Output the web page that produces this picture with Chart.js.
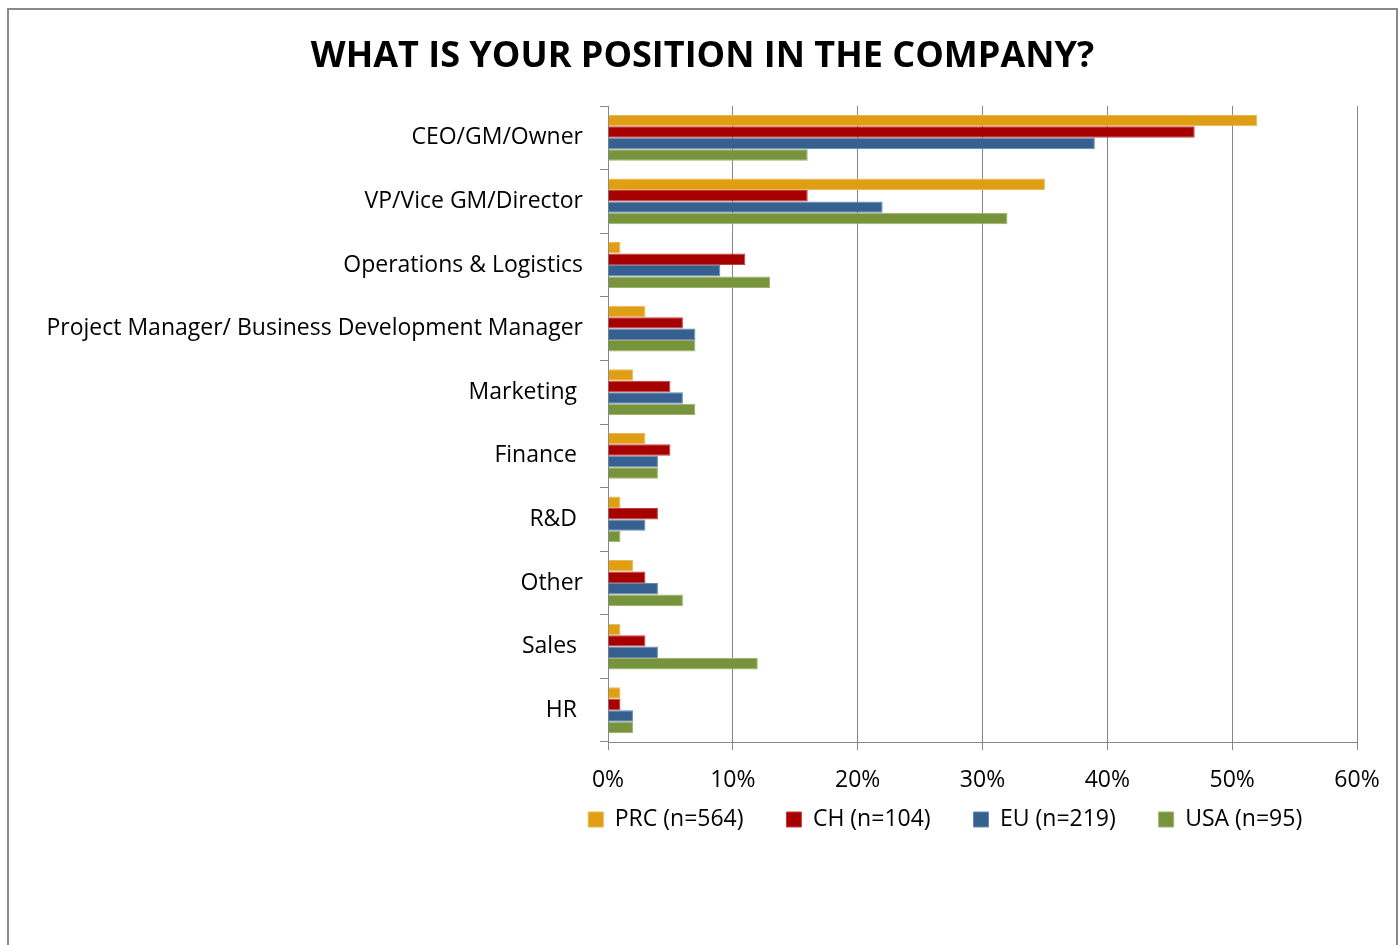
<!DOCTYPE html>
<html>
<head>
<meta charset="utf-8">
<script src="https://cdn.jsdelivr.net/npm/chart.js@4/dist/chart.umd.min.js"></script>
<style>
    html, body { margin: 0; padding: 0; overflow: hidden; background: #fff; }
    #frame {
        position: absolute; left: 7px; top: 8px;
        width: 1391px; height: 1000px;
        box-sizing: border-box;
        border: 2px solid #898989;
    }
    #wrap { position: absolute; left: 0; top: 0; width: 1398px; height: 945px; }
</style>
</head>
<body>
<div id="frame"></div>
<div id="wrap"><canvas id="positionChart"></canvas></div>
<script>
// Survey answers: share of respondents per position, by region (%)
const positions = [
    'CEO/GM/Owner',
    'VP/Vice GM/Director',
    'Operations & Logistics',
    'Project Manager/ Business Development Manager',
    'Marketing ',
    'Finance ',
    'R&D ',
    'Other',
    'Sales ',
    'HR '
];
const prcValues = [52, 35, 1, 3, 2, 3, 1, 2, 1, 1];
const chValues  = [47, 16, 11, 6, 5, 5, 4, 3, 3, 1];
const euValues  = [39, 22, 9, 7, 6, 4, 3, 4, 4, 2];
const usaValues = [16, 32, 13, 7, 7, 4, 1, 6, 12, 2];
const xTicks = [0, 10, 20, 30, 40, 50, 60];

const FONT = '"Open Sans", Lato, sans-serif';
const axisGray = '#868686';

function makeSeries(label, data, color, edge) {
    return {
        label: label,
        data: data,
        backgroundColor: color,
        borderColor: edge,
        borderWidth: 1,
        categoryPercentage: 0.72,
        barPercentage: 1.0
    };
}

// default legend items, with extra room after each label
function spacedLegendLabels(chart) {
    const items = Chart.defaults.plugins.legend.labels.generateLabels(chart);
    items.forEach((item, i) => {
        item.text = item.text + (i === items.length - 1 ? '       ' : '     ');
    });
    return items;
}

const ctx = document.getElementById('positionChart').getContext('2d');
new Chart(ctx, {
    type: 'bar',
    data: {
        labels: positions,
        datasets: [
            makeSeries('PRC (n=564)', prcValues, '#DF9E13', '#E9B854'),
            makeSeries('CH (n=104)', chValues, '#A60000', '#C04040'),
            makeSeries('EU (n=219)', euValues, '#36608F', '#6A88AE'),
            makeSeries('USA (n=95)', usaValues, '#77933C', '#9DB26E')
        ]
    },
    options: {
        indexAxis: 'y',
        responsive: true,
        maintainAspectRatio: false,
        animation: false,
        layout: {
            padding: { top: 0, left: 48, right: 41, bottom: 104 }
        },
        plugins: {
            title: {
                display: true,
                text: 'WHAT IS YOUR POSITION IN THE COMPANY?',
                color: '#000',
                font: { family: FONT, size: 36, weight: 'bold' },
                padding: { top: 35, bottom: 27.8 }
            },
            legend: {
                position: 'bottom',
                align: 'end',
                labels: {
                    color: '#000',
                    font: { family: FONT, size: 23 },
                    boxWidth: 15,
                    boxHeight: 15,
                    padding: 13,
                    generateLabels: spacedLegendLabels
                }
            },
            tooltip: { enabled: false }
        },
        scales: {
            x: {
                min: 0,
                max: 60,
                afterBuildTicks: scale => {
                    scale.ticks = xTicks.map(v => ({ value: v }));
                },
                afterFit: scale => { scale.height = 53; },
                ticks: {
                    color: '#000',
                    font: { family: FONT, size: 23 },
                    padding: 17,
                    callback: v => v + '%'
                },
                grid: {
                    color: axisGray,
                    lineWidth: 1,
                    tickLength: 8
                },
                border: { color: axisGray, width: 1 }
            },
            y: {
                afterFit: scale => { scale.width = 560; },
                ticks: {
                    color: '#000',
                    font: { family: FONT, size: 23 },
                    padding: 17
                },
                grid: {
                    drawOnChartArea: false,
                    color: axisGray,
                    tickLength: 8
                },
                border: { color: axisGray, width: 1 }
            }
        }
    }
});
</script>
</body>
</html>
